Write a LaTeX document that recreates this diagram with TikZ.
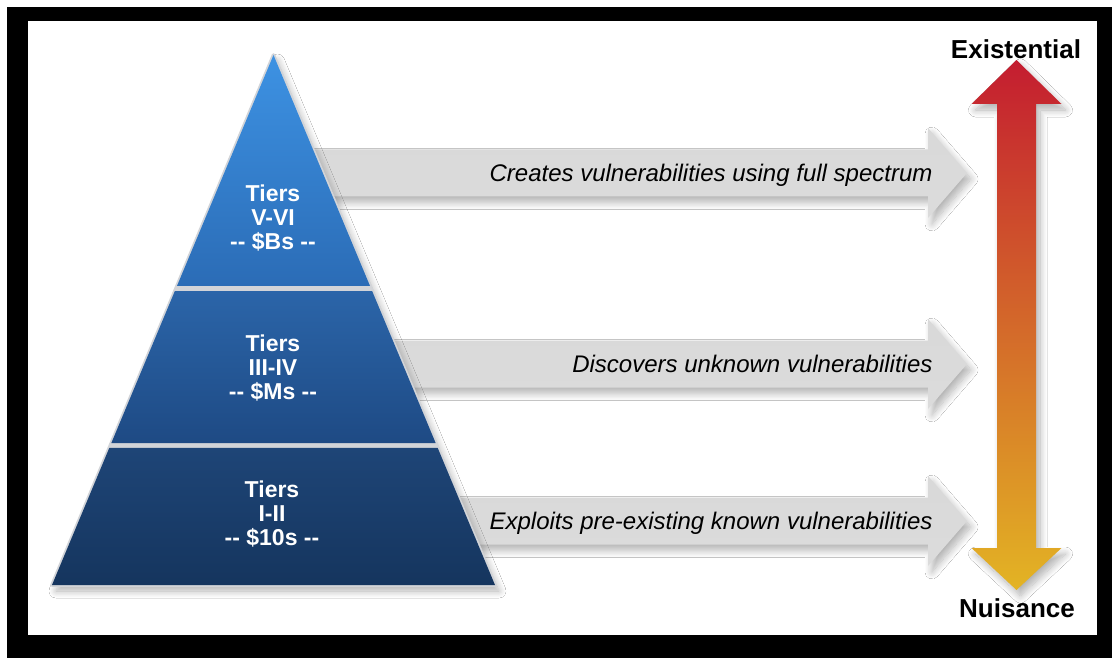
\documentclass[tikz,border=0pt]{standalone}
\usepackage{fontspec}
\setmainfont{Liberation Sans}[Ligatures=TeXOff]
\usetikzlibrary{calc,shadows.blur}

\definecolor{tierAtop}{HTML}{3D92E3}
\definecolor{tierAbot}{HTML}{2B6CB6}
\definecolor{tierBtop}{HTML}{2B65A9}
\definecolor{tierBbot}{HTML}{1E4A84}
\definecolor{tierCtop}{HTML}{1E4577}
\definecolor{tierCbot}{HTML}{15355E}
\definecolor{rim}{HTML}{D2D4D8}
\definecolor{riskhigh}{HTML}{C41D30}
\definecolor{riskmid}{HTML}{D2622A}
\definecolor{risklow}{HTML}{E3B424}

\tikzset{
	soft/.style={blur shadow={shadow xshift=4pt, shadow yshift=-6pt, shadow blur radius=7pt, shadow blur steps=12, shadow opacity=30}},
	tier/.style 2 args={shade, top color=#1, bottom color=#2},
	tiertext/.style={text=white, font=\fontsize{23}{24}\selectfont\bfseries, align=center},
	spectext/.style={anchor=base east, font=\fontsize{24}{28}\selectfont\itshape},
	endtext/.style={anchor=base, font=\fontsize{26}{30}\selectfont\bfseries}
}

\begin{document}
\begin{tikzpicture}[x=1pt, y=-1pt]
	\useasboundingbox (0,0) rectangle (1112,658);
	\fill[white] (0,0) rectangle (1112,658);
	\fill[black] (7,7) rectangle (1112,658);
	\fill[white] (28,21) rectangle (1097,635);

	% grey arrows behind the pyramid
	\foreach \x/\y/\txt [count=\i] in {300/173/Creates vulnerabilities using full spectrum,
			380/364/Discovers unknown vulnerabilities,
			440/521/Exploits pre-existing known vulnerabilities}{
		\shade[soft, top color=gray!30, middle color=gray!46, bottom color=gray!28]
			(\x,\y-23.5) -- (928,\y-23.5) -- (928,\y-45) -- (967,\y) -- (928,\y+45) -- (928,\y+23.5) -- (\x,\y+23.5) -- cycle;
		\node[spectext] (spec\i) at (936,\y+8.5) {\txt};
	}

	% pyramid
	\coordinate (apex) at (273.5,55);
	\coordinate (bl) at (52,585);
	\coordinate (br) at (495,585);
	\filldraw[soft, rim, line width=3.5pt, line join=round] (apex) -- (bl) -- (br) -- cycle;
	\path[tier={tierAtop}{tierAbot}] (apex) -- ($(apex)!0.4358!(br)$) -- ($(apex)!0.4358!(bl)$) -- cycle;
	\path[tier={tierBtop}{tierBbot}] ($(apex)!0.4453!(bl)$) -- ($(apex)!0.4453!(br)$) -- ($(apex)!0.7321!(br)$) -- ($(apex)!0.7321!(bl)$) -- cycle;
	\path[tier={tierCtop}{tierCbot}] ($(apex)!0.7415!(bl)$) -- ($(apex)!0.7415!(br)$) -- (br) -- (bl) -- cycle;
	\node[tiertext] (tier56) at (273,218) {Tiers\\V-VI\\-- \$Bs --};
	\node[tiertext] (tier34) at (273,368) {Tiers\\III-IV\\-- \$Ms --};
	\node[tiertext] (tier12) at (272,514) {Tiers\\I-II\\-- \$10s --};

	% risk scale
	\shade[soft, top color=riskhigh, middle color=riskmid, bottom color=risklow]
		(1016.5,60) -- (1061.5,104) -- (1036,104) -- (1036,548) -- (1061.5,548) -- (1016.5,590)
		-- (971.5,548) -- (997,548) -- (997,104) -- (971.5,104) -- cycle;
	\node[endtext] (exist) at (1016,59) {Existential};
	\node[endtext] (nuis) at (1017,617) {Nuisance};
\end{tikzpicture}
\end{document}
